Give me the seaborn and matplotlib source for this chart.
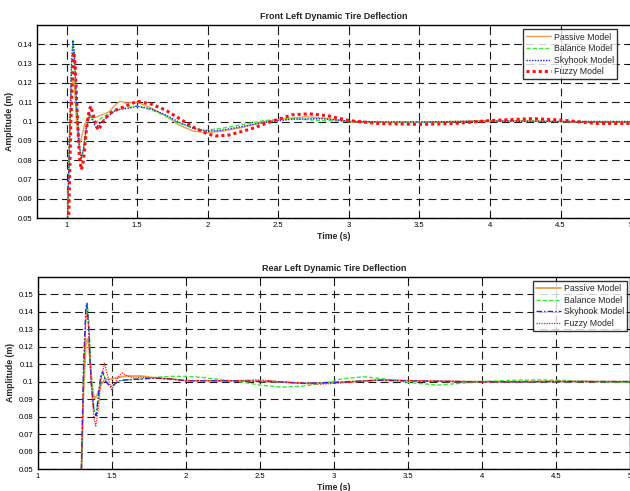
import matplotlib
matplotlib.use("Agg")
import matplotlib.pyplot as plt
import seaborn as sns

# ---------------------------
# Data (time in s, amplitude in m)
# ---------------------------
# Front left
front_passive_t = [1.0, 1.02, 1.035, 1.045, 1.055, 1.07, 1.085, 1.095, 1.11, 1.13, 1.16, 1.18, 1.2, 1.25, 1.3,
                   1.35, 1.38, 1.42, 1.5, 1.6, 1.7, 1.8, 1.9, 2.0, 2.1, 2.25, 2.4, 2.55, 2.7, 2.85, 3.0, 3.25,
                   3.5, 3.75, 4.0, 4.25, 4.5, 4.75, 5.0]
front_passive_y = [0.03, 0.085, 0.118, 0.122, 0.119, 0.100, 0.089, 0.089, 0.093, 0.099, 0.1037, 0.1025, 0.102,
                   0.1035, 0.105, 0.109, 0.1105, 0.1095, 0.110, 0.107, 0.103, 0.098, 0.095, 0.0942, 0.095, 0.097,
                   0.100, 0.1015, 0.1025, 0.1015, 0.100, 0.0995, 0.0995, 0.100, 0.1005, 0.1005, 0.100, 0.0998,
                   0.0998]

front_balance_t = [1.0, 1.02, 1.035, 1.045, 1.055, 1.07, 1.09, 1.105, 1.12, 1.14, 1.165, 1.19, 1.21, 1.25, 1.3,
                   1.4, 1.5, 1.6, 1.7, 1.8, 1.9, 1.97, 2.1, 2.25, 2.4, 2.6, 2.8, 3.0, 3.25, 3.5, 3.75, 4.0,
                   4.5, 5.0]
front_balance_y = [0.03, 0.09, 0.13, 0.142, 0.135, 0.11, 0.088, 0.081, 0.086, 0.097, 0.1037, 0.101, 0.0995,
                   0.102, 0.104, 0.107, 0.108, 0.106, 0.103, 0.099, 0.0965, 0.0953, 0.0965, 0.0985, 0.1005,
                   0.1015, 0.1005, 0.100, 0.0998, 0.0998, 0.100, 0.1002, 0.100, 0.100]

front_skyhook_t = [1.0, 1.02, 1.035, 1.045, 1.055, 1.07, 1.09, 1.105, 1.12, 1.14, 1.165, 1.19, 1.21, 1.25, 1.3,
                   1.35, 1.45, 1.5, 1.6, 1.7, 1.8, 1.9, 2.0, 2.1, 2.25, 2.4, 2.6, 2.8, 3.0, 3.25, 3.5, 3.75,
                   4.0, 4.5, 5.0]
front_skyhook_y = [0.03, 0.09, 0.13, 0.142, 0.134, 0.11, 0.087, 0.081, 0.086, 0.097, 0.1035, 0.0995, 0.097,
                   0.100, 0.103, 0.106, 0.107, 0.108, 0.1065, 0.1035, 0.0995, 0.0965, 0.095, 0.0955, 0.0975,
                   0.0995, 0.1012, 0.1015, 0.1002, 0.0998, 0.0998, 0.100, 0.1002, 0.100, 0.100]

front_fuzzy_t = [1.0, 1.015, 1.03, 1.045, 1.05, 1.06, 1.075, 1.09, 1.105, 1.12, 1.14, 1.16, 1.172, 1.19, 1.21,
                 1.225, 1.25, 1.3, 1.35, 1.42, 1.5, 1.6, 1.7, 1.8, 1.9, 2.0, 2.06, 2.15, 2.3, 2.45, 2.6, 2.72,
                 2.85, 3.0, 3.2, 3.5, 3.75, 4.0, 4.3, 4.5, 4.75, 5.0]
front_fuzzy_y = [0.02, 0.05, 0.10, 0.13, 0.136, 0.13, 0.105, 0.082, 0.075, 0.080, 0.096, 0.106, 0.108, 0.103,
                 0.0975, 0.0956, 0.099, 0.104, 0.106, 0.108, 0.1105, 0.109, 0.106, 0.1015, 0.097, 0.0935,
                 0.0925, 0.093, 0.096, 0.100, 0.1035, 0.104, 0.103, 0.1005, 0.099, 0.0985, 0.099, 0.1005,
                 0.1015, 0.1008, 0.099, 0.099]

# Rear left
rear_passive_t = [1.29, 1.31, 1.325, 1.335, 1.345, 1.36, 1.375, 1.387, 1.4, 1.42, 1.45, 1.5, 1.55, 1.6, 1.7,
                  1.8, 1.9, 2.0, 2.2, 2.4, 2.6, 2.8, 3.0, 3.3, 3.6, 4.0, 4.5, 5.0]
rear_passive_y = [0.03, 0.095, 0.121, 0.1245, 0.121, 0.105, 0.093, 0.0905, 0.092, 0.097, 0.101, 0.1015, 0.1025,
                  0.1032, 0.1032, 0.102, 0.1015, 0.1005, 0.1005, 0.1003, 0.100, 0.099, 0.0995, 0.1008, 0.1003,
                  0.100, 0.100, 0.100]

rear_balance_t = [1.29, 1.31, 1.325, 1.335, 1.345, 1.36, 1.38, 1.394, 1.41, 1.425, 1.438, 1.46, 1.49, 1.51, 1.55,
                  1.6, 1.7, 1.8, 1.9, 2.0, 2.1, 2.25, 2.4, 2.5, 2.65, 2.8, 2.95, 3.05, 3.2, 3.35, 3.5, 3.7,
                  3.85, 4.0, 4.2, 4.4, 4.6, 4.8, 5.0]
rear_balance_y = [0.03, 0.10, 0.138, 0.145, 0.135, 0.105, 0.084, 0.081, 0.090, 0.101, 0.1057, 0.101, 0.097,
                  0.098, 0.1005, 0.101, 0.1015, 0.1025, 0.103, 0.103, 0.1025, 0.101, 0.0995, 0.098, 0.0968,
                  0.0975, 0.0995, 0.1015, 0.1028, 0.1015, 0.0995, 0.098, 0.099, 0.100, 0.1008, 0.101, 0.1005,
                  0.0998, 0.0995]

rear_skyhook_t = [1.29, 1.31, 1.325, 1.332, 1.345, 1.36, 1.38, 1.394, 1.41, 1.425, 1.438, 1.46, 1.49, 1.51, 1.55,
                  1.6, 1.7, 1.8, 1.9, 2.0, 2.3, 2.6, 2.8, 3.0, 3.3, 3.6, 4.0, 4.5, 5.0]
rear_skyhook_y = [0.03, 0.11, 0.142, 0.1448, 0.13, 0.10, 0.083, 0.0805, 0.092, 0.103, 0.1055, 0.100, 0.097,
                  0.098, 0.1005, 0.101, 0.1015, 0.102, 0.1015, 0.1005, 0.1005, 0.100, 0.099, 0.0995, 0.1008,
                  0.1003, 0.0998, 0.100, 0.100]

rear_fuzzy_t = [1.29, 1.31, 1.325, 1.335, 1.345, 1.36, 1.38, 1.392, 1.41, 1.43, 1.452, 1.47, 1.5, 1.52, 1.55,
                1.57, 1.6, 1.65, 1.7, 1.8, 1.9, 2.0, 2.3, 2.5, 2.7, 2.9, 3.1, 3.3, 3.6, 4.0, 4.5, 5.0]
rear_fuzzy_y = [0.03, 0.105, 0.135, 0.140, 0.130, 0.100, 0.079, 0.0746, 0.085, 0.103, 0.1105, 0.104, 0.0948,
                0.099, 0.1035, 0.105, 0.1035, 0.102, 0.1025, 0.102, 0.1015, 0.1005, 0.1005, 0.101, 0.0995,
                0.0985, 0.0995, 0.101, 0.1005, 0.0998, 0.1002, 0.100]

legend_labels = ["Passive Model", "Balance Model", "Skyhook Model", "Fuzzy Model"]
x_ticks = [1, 1.5, 2, 2.5, 3, 3.5, 4, 4.5, 5]

# ---------------------------
# Styling
# ---------------------------
sns.set_theme(style="white")
plt.rcParams["font.family"] = ["Liberation Sans", "DejaVu Sans"]

orange = "#E8A050"
green = "#33EE33"
blue = "#2222EE"
red = "#FF1010"

fig = plt.figure(figsize=(6.3, 4.91), dpi=100)
ax1 = fig.add_axes([0.0587, 0.556, 0.943, 0.393])
ax2 = fig.add_axes([0.0598, 0.0448, 0.9406, 0.3916])


def style_axis(ax, title, ylim, xlim, yticks):
    ax.set_xlim(*xlim)
    ax.set_ylim(*ylim)
    ax.set_xticks(x_ticks)
    ax.set_xticklabels([f"{t:g}" for t in x_ticks])
    ax.set_yticks(yticks)
    ax.set_yticklabels([f"{t:g}" for t in yticks])
    ax.grid(True, color="#1a1a1a", linestyle=(0, (7, 4)), linewidth=0.8)
    ax.tick_params(direction="in", length=3, width=0.6, labelsize=5.5, pad=3,
                   top=True, right=True, bottom=True, left=True, colors="black")
    for s in ax.spines.values():
        s.set_color("black")
        s.set_linewidth(1.0)
    ax.set_title(title, fontsize=6.5, fontweight="bold", pad=4)
    ax.set_xlabel("Time (s)", fontsize=6.3, fontweight="bold", labelpad=2)
    ax.set_ylabel("Amplitude (m)", fontsize=6.3, fontweight="bold", labelpad=3)


def add_legend(ax, anchor):
    leg = ax.legend(loc="upper right", bbox_to_anchor=anchor, fontsize=6.3, frameon=True,
                    fancybox=False, edgecolor="black", handlelength=2.8, borderpad=0.35,
                    labelspacing=0.3, handletextpad=0.4, borderaxespad=0)
    leg.get_frame().set_linewidth(1.0)
    return leg


# ---------------------------
# 1) Front left
# ---------------------------
sns.lineplot(x=front_passive_t, y=front_passive_y, ax=ax1, color=orange, linewidth=1.0,
             sort=False, estimator=None, label=legend_labels[0])
sns.lineplot(x=front_balance_t, y=front_balance_y, ax=ax1, color=green, linewidth=1.0,
             linestyle=(0, (3, 1.5)), sort=False, estimator=None, label=legend_labels[1])
sns.lineplot(x=front_skyhook_t, y=front_skyhook_y, ax=ax1, color=blue, linewidth=1.0,
             linestyle=(0, (1, 1)), sort=False, estimator=None, label=legend_labels[2])
sns.lineplot(x=front_fuzzy_t, y=front_fuzzy_y, ax=ax1, color=red, linewidth=2.2,
             linestyle=(0, (1, 1)), sort=False, estimator=None, label=legend_labels[3])
style_axis(ax1, "Front Left Dynamic Tire Deflection", (0.05, 0.15), (0.79, 5.0),
           [0.05, 0.06, 0.07, 0.08, 0.09, 0.1, 0.11, 0.12, 0.13, 0.14])
add_legend(ax1, (0.977, 0.977))

# ---------------------------
# 2) Rear left
# ---------------------------
sns.lineplot(x=rear_passive_t, y=rear_passive_y, ax=ax2, color=orange, linewidth=1.3,
             sort=False, estimator=None, label=legend_labels[0])
sns.lineplot(x=rear_balance_t, y=rear_balance_y, ax=ax2, color=green, linewidth=1.0,
             linestyle=(0, (3, 1.5)), sort=False, estimator=None, label=legend_labels[1])
sns.lineplot(x=rear_skyhook_t, y=rear_skyhook_y, ax=ax2, color=blue, linewidth=1.0,
             linestyle=(0, (4, 1.5, 1, 1.5)), sort=False, estimator=None, label=legend_labels[2])
sns.lineplot(x=rear_fuzzy_t, y=rear_fuzzy_y, ax=ax2, color=red, linewidth=0.9,
             linestyle=(0, (1, 1)), sort=False, estimator=None, label=legend_labels[3])
style_axis(ax2, "Rear Left Dynamic Tire Deflection", (0.05, 0.16), (1.0, 5.0),
           [0.05, 0.06, 0.07, 0.08, 0.09, 0.1, 0.11, 0.12, 0.13, 0.14, 0.15])
add_legend(ax2, (0.995, 0.977))

fig.savefig("out.png", dpi=100)
